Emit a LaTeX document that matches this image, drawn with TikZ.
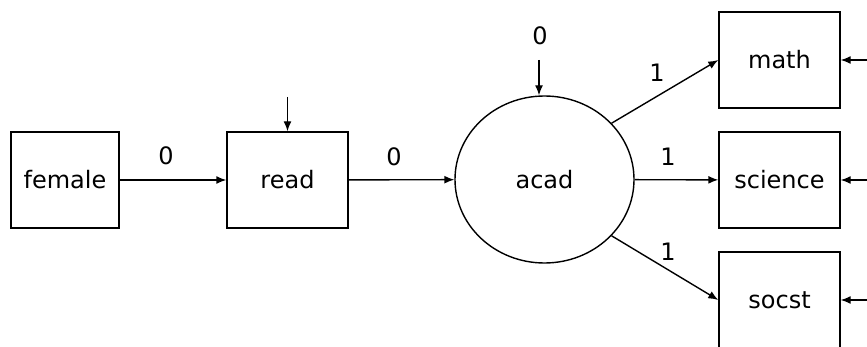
\documentclass[tikz,border=0pt]{standalone}
\usepackage{fontspec}
\setmainfont{DejaVu Sans}
\usetikzlibrary{arrows.meta,shapes.geometric}

\tikzset{
  obs/.style={draw, line width=1.4pt, inner sep=0pt, minimum height=96pt},
  lat/.style={draw, ellipse, line width=1.4pt, inner sep=0pt,
              minimum width=179pt, minimum height=167pt},
  path/.style={line width=1.4pt, -{Latex[length=10pt,width=8pt]}},
  coef/.style={inner sep=0pt},
  every node/.style={font=\fontsize{24}{28}\selectfont}
}

\begin{document}
\begin{tikzpicture}[x=1pt,y=-1pt]
  \useasboundingbox (0,0) rectangle (867,347);

  % observed variables
  \node[obs, minimum width=108pt] (female)  at (65,180)    {female};
  \node[obs, minimum width=121pt] (read)    at (287.5,180) {read};
  \node[obs, minimum width=121pt] (math)    at (779.5,60)  {math};
  \node[obs, minimum width=121pt] (science) at (779.5,180) {science};
  \node[obs, minimum width=121pt] (socst)   at (779.5,300) {socst};

  % latent variable
  \node[lat] (acad) at (544.5,179.5) {acad};

  % free ends of the disturbance arrows
  \coordinate (eread)  at (287.5,97);
  \coordinate (eacad)  at (539,60);
  \coordinate (emath)  at (867,60);
  \coordinate (esci)   at (867,180);
  \coordinate (esoc)   at (867,300);

  % structural paths
  \draw[path] (female) -- (read);
  \draw[path] (read) -- (acad);
  \draw[path] (acad.40) -- (math.west);
  \draw[path] (acad) -- (science);
  \draw[path] (acad.-40) -- (socst.west);

  % disturbances
  \draw[path] (eread) -- (read.north);
  \draw[path] (eacad) -- (eacad |- acad.north);
  \draw[path] (emath) -- (math.east);
  \draw[path] (esci) -- (science.east);
  \draw[path] (esoc) -- (socst.east);

  % coefficients
  \node[coef] (c1) at (166,156) {0};
  \node[coef] (c2) at (394,157) {0};
  \node[coef] (c3) at (540,36)  {0};
  \node[coef] (c4) at (657,73)  {1};
  \node[coef] (c5) at (668,157) {1};
  \node[coef] (c6) at (668,252) {1};
\end{tikzpicture}
\end{document}
